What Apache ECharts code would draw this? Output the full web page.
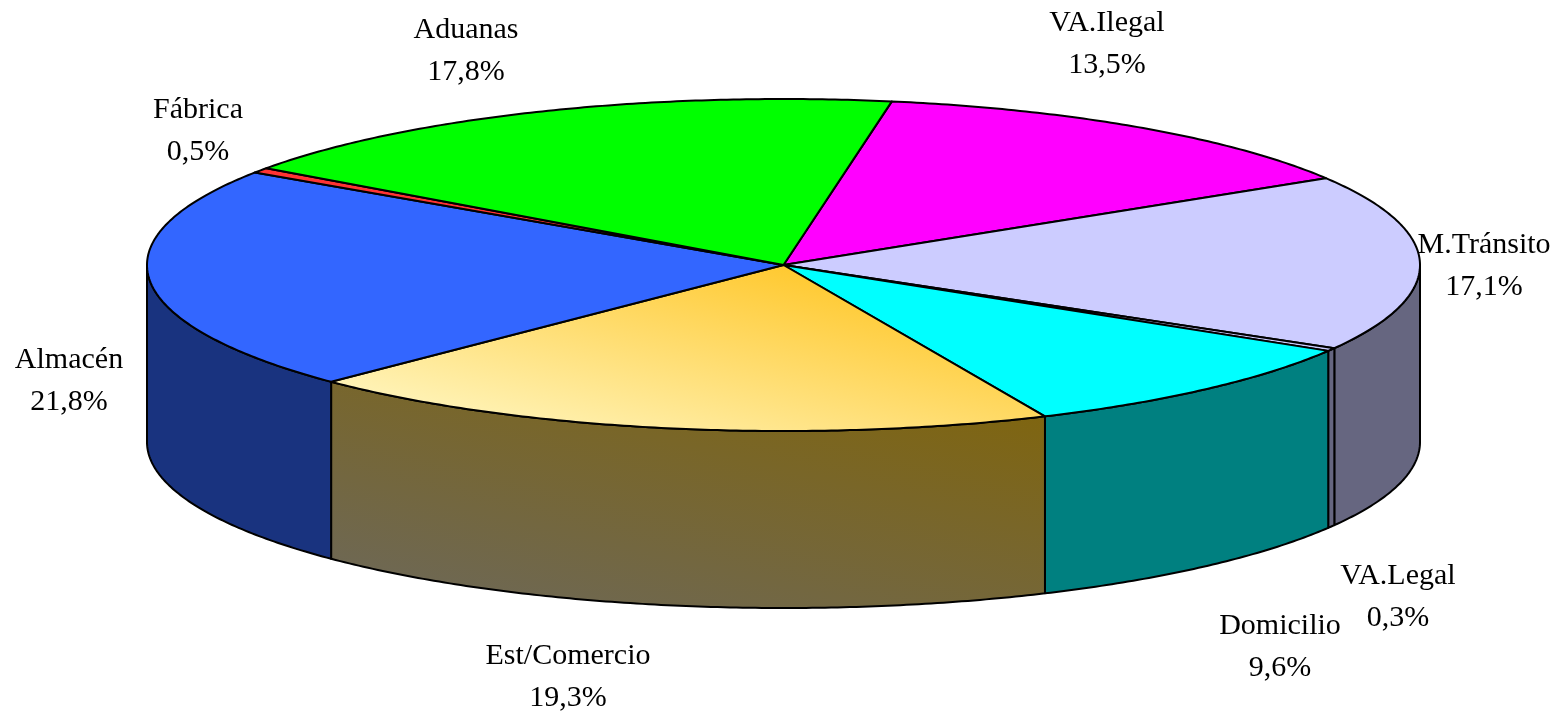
<!DOCTYPE html>
<html>
<head>
<meta charset="utf-8">
<title>Pie</title>
<script src="https://cdn.jsdelivr.net/npm/echarts@6/dist/echarts.min.js"></script>
<style>
  html, body { margin: 0; padding: 0; background: #fff; }
  #chart { width: 1558px; height: 711px; }
</style>
</head>
<body>
<div id="chart"></div>
<script>
// clockwise from the VA.Ilegal / Aduanas border
const categories = ['VA.Ilegal', 'M.Tránsito', 'VA.Legal', 'Domicilio', 'Est/Comercio', 'Almacén', 'Fábrica', 'Aduanas'];
const percents = [13.5, 17.1, 0.3, 9.6, 19.3, 21.8, 0.5, 17.8];
const percentLabels = ['13,5%', '17,1%', '0,3%', '9,6%', '19,3%', '21,8%', '0,5%', '17,8%'];

const topColors = ['#ff00ff', '#ccccff', '#ccccff', '#00ffff', null, '#3366ff', '#ff3333', '#00ff00'];
const sideColors = ['#800080', '#666680', '#666680', '#008080', null, '#19337f', '#801919', '#008000'];

// pie geometry in pixels
const cx = 783.5, cy = 265, rx = 636.5, ry = 166, depth = 177;
const startDeg = 9.8;
const lineGap = 42;
// label centres, x / y of the first line
const labelPos = [[1107, 23], [1484, 245], [1398, 576], [1280, 626], [568, 656], [69, 360], [198, 110], [466, 30]];

const total = percents.reduce((a, b) => a + b, 0);
const starts = [];
percents.reduce((sum, v, i) => { starts[i] = sum; return sum + v; }, 0);
const toAngle = v => (startDeg + v / total * 360) * Math.PI / 180;

// angle is measured clockwise from twelve o'clock
const pt = (a, dy) => [cx + rx * Math.sin(a), cy - ry * Math.cos(a) + (dy || 0)];

function arc(a0, a1, dy) {
  const n = Math.max(2, Math.ceil((a1 - a0) / 0.01));
  const out = [];
  for (let i = 0; i <= n; i++) out.push(pt(a0 + (a1 - a0) * i / n, dy));
  return out;
}

function renderTop(params, api) {
  const i = api.value(0);
  const a0 = toAngle(starts[i]), a1 = toAngle(starts[i] + api.value(1));
  const fill = topColors[i] || new echarts.graphic.LinearGradient(782, 264, 724, 484, [
    { offset: 0, color: '#ffc930' },
    { offset: 1, color: '#fff2b4' }
  ], true);
  return {
    type: 'polygon',
    shape: { points: [[cx, cy]].concat(arc(a0, a1)) },
    style: { fill: fill, stroke: '#000', lineWidth: 2, lineJoin: 'round' }
  };
}

function renderSide(params, api) {
  const i = api.value(0);
  const lo = Math.PI / 2, hi = 1.5 * Math.PI;
  const a0 = Math.max(toAngle(starts[i]), lo), a1 = Math.min(toAngle(starts[i] + api.value(1)), hi);
  if (a1 <= a0) return null;
  const fill = sideColors[i] || new echarts.graphic.LinearGradient(1042, 415, 961, 745, [
    { offset: 0, color: '#7f6510' },
    { offset: 1, color: '#6d6858' }
  ], true);
  return {
    type: 'polygon',
    shape: { points: arc(a0, a1).concat(arc(a0, a1, depth).reverse()) },
    style: { fill: fill, stroke: '#000', lineWidth: 2, lineJoin: 'round' }
  };
}

function renderLabel(params, api) {
  const i = api.value(0);
  const font = '30px "Liberation Serif", serif';
  return {
    type: 'group',
    children: [
      { type: 'text', style: { x: labelPos[i][0], y: labelPos[i][1], text: categories[i], font: font, fill: '#000', align: 'center', verticalAlign: 'middle' } },
      { type: 'text', style: { x: labelPos[i][0], y: labelPos[i][1] + lineGap, text: percentLabels[i], font: font, fill: '#000', align: 'center', verticalAlign: 'middle' } }
    ]
  };
}

const seriesData = percents.map((v, i) => [i, v]);

const chart = echarts.init(document.getElementById('chart'));
chart.setOption({
  animation: false,
  backgroundColor: '#fff',
  series: [
    { type: 'custom', coordinateSystem: 'none', renderItem: renderSide, data: seriesData, z: 1 },
    { type: 'custom', coordinateSystem: 'none', renderItem: renderTop, data: seriesData, z: 2 },
    { type: 'custom', coordinateSystem: 'none', renderItem: renderLabel, data: seriesData, z: 3 }
  ]
});
</script>
</body>
</html>
